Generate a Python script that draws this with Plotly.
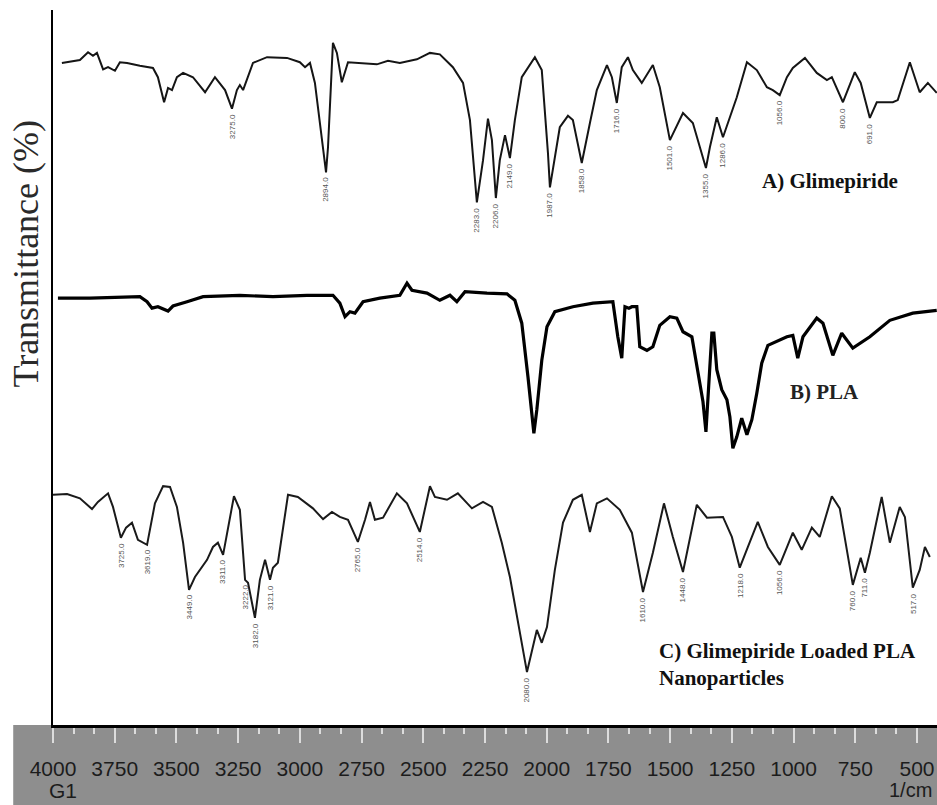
import plotly.graph_objects as go

# FTIR spectra, stacked (transmittance in display units, offset per sample)
glim_wn = [3964, 3891, 3858, 3838, 3822, 3797, 3777, 3749, 3729, 3700, 3648, 3595, 3575, 3550, 3534,
           3518, 3498, 3473, 3433, 3384, 3344, 3303, 3275, 3255, 3243, 3230, 3190, 3133, 3052, 3000,
           2979, 2959, 2939, 2894, 2886, 2866, 2850, 2830, 2805, 2769, 2688, 2643, 2595, 2526, 2473,
           2433, 2380, 2339, 2311, 2283, 2258, 2238, 2222, 2206, 2190, 2169, 2149, 2129, 2101, 2048,
           2020, 1995, 1987, 1947, 1914, 1894, 1858, 1825, 1797, 1756, 1736, 1716, 1696, 1671, 1651,
           1615, 1570, 1542, 1501, 1448, 1408, 1355, 1339, 1311, 1286, 1258, 1230, 1189, 1149, 1108,
           1084, 1056, 1027, 1003, 954, 906, 865, 845, 800, 752, 728, 691, 663, 598, 578,
           529, 489, 456, 420]
glim_t = [92.6, 93.0, 94.1, 93.6, 94.0, 91.7, 92.0, 91.5, 92.7, 92.6, 92.2, 91.9, 90.6, 87.1, 89.1,
          88.8, 90.6, 91.2, 90.6, 88.5, 90.6, 88.8, 86.2, 88.8, 89.5, 88.8, 92.6, 93.4, 93.3, 92.7,
          92.0, 92.6, 89.8, 77.3, 80.8, 95.4, 94.0, 89.9, 92.7, 92.6, 92.4, 92.9, 92.6, 93.1, 94.0,
          93.8, 92.0, 89.8, 84.6, 73.1, 79.0, 84.8, 81.8, 73.7, 79.0, 82.5, 79.3, 84.6, 90.6, 93.4,
          91.6, 80.0, 75.2, 83.6, 85.2, 84.6, 78.6, 84.2, 88.8, 92.3, 90.6, 87.0, 92.0, 93.4, 91.6,
          89.8, 92.3, 89.2, 81.8, 85.6, 84.2, 77.9, 80.8, 85.0, 82.2, 85.0, 87.8, 92.7, 91.6, 89.2,
          88.8, 88.1, 90.6, 91.9, 93.3, 91.2, 90.2, 90.6, 87.1, 91.3, 89.8, 84.9, 87.1, 87.1, 87.4,
          92.7, 88.5, 89.8, 88.4]

pla_wn = [3980, 3850, 3648, 3619, 3599, 3575, 3534, 3514, 3457, 3392, 3243, 3109, 2971, 2866, 2838,
          2817, 2797, 2777, 2744, 2676, 2595, 2566, 2546, 2485, 2433, 2392, 2364, 2331, 2242, 2161,
          2129, 2101, 2076, 2060, 2052, 2040, 2020, 1999, 1967, 1894, 1813, 1732, 1712, 1696, 1683,
          1667, 1655, 1635, 1623, 1594, 1570, 1542, 1501, 1473, 1448, 1412, 1388, 1367, 1355, 1347,
          1331, 1323, 1311, 1291, 1270, 1258, 1246, 1230, 1210, 1189, 1169, 1149, 1129, 1104, 1027,
          1003, 983, 962, 906, 881, 841, 805, 760, 691, 610, 517, 420]
pla_t = [59.7, 59.7, 59.9, 59.2, 58.3, 58.5, 57.9, 58.6, 59.2, 59.9, 60.1, 59.9, 60.1, 60.1, 59.0,
         57.1, 57.8, 57.6, 59.2, 59.7, 60.1, 61.8, 60.8, 60.4, 59.4, 60.1, 59.2, 60.6, 60.4, 60.3,
         59.4, 56.2, 48.7, 43.1, 40.8, 44.1, 51.0, 55.7, 57.8, 58.5, 59.0, 59.2, 54.3, 51.3, 58.5,
         58.3, 58.5, 58.5, 52.9, 52.4, 52.9, 55.9, 57.1, 56.9, 55.0, 54.3, 49.2, 45.2, 41.0, 45.9,
         54.8, 54.8, 49.7, 46.9, 45.5, 43.1, 38.7, 40.3, 42.9, 40.6, 42.7, 46.4, 50.6, 53.1, 54.3,
         54.5, 51.3, 54.3, 56.9, 56.2, 51.7, 54.8, 52.7, 54.3, 56.6, 57.6, 58.0]

nano_wn = [4000, 3943, 3891, 3842, 3818, 3777, 3757, 3725, 3704, 3680, 3656, 3619, 3587, 3554, 3526,
           3498, 3473, 3449, 3425, 3397, 3376, 3352, 3332, 3311, 3291, 3267, 3243, 3222, 3210, 3182,
           3162, 3141, 3121, 3109, 3089, 3048, 3008, 2947, 2906, 2870, 2838, 2805, 2765, 2736, 2716,
           2696, 2663, 2607, 2566, 2514, 2473, 2453, 2404, 2360, 2303, 2258, 2222, 2182, 2149, 2117,
           2080, 2040, 2020, 1999, 1967, 1934, 1894, 1858, 1825, 1797, 1756, 1704, 1655, 1610, 1570,
           1525, 1489, 1448, 1392, 1351, 1286, 1250, 1218, 1185, 1145, 1104, 1056, 1023, 1003, 967,
           926, 894, 845, 813, 784, 760, 728, 711, 691, 643, 610, 570, 549, 517, 489,
           468, 448]
nano_t = [32.2, 32.3, 31.7, 30.2, 31.2, 32.4, 30.5, 26.2, 27.6, 28.3, 25.9, 25.2, 31.0, 33.4, 33.3,
          30.5, 25.5, 18.9, 20.7, 22.1, 23.1, 24.9, 25.5, 23.8, 27.3, 32.0, 30.1, 20.3, 19.9, 15.0,
          20.3, 23.1, 20.3, 22.0, 22.7, 32.2, 31.9, 30.3, 28.8, 29.8, 29.1, 28.7, 25.6, 28.7, 31.2,
          28.7, 29.0, 32.4, 31.0, 27.0, 33.4, 31.9, 31.5, 32.4, 30.3, 31.2, 30.5, 25.5, 20.7, 14.7,
          7.4, 13.3, 11.5, 13.7, 21.7, 28.3, 31.5, 32.2, 27.0, 31.0, 31.7, 30.1, 26.9, 18.6, 24.1,
          31.0, 26.3, 21.4, 30.8, 29.0, 29.1, 26.3, 22.0, 24.9, 28.4, 24.9, 22.4, 25.2, 26.9, 24.5,
          27.6, 26.3, 32.0, 30.3, 24.1, 19.6, 23.4, 21.3, 24.1, 31.9, 25.5, 30.5, 29.1, 19.2, 21.7,
          24.9, 23.5]

# marked peaks (wavenumbers of the labelled minima)
glim_peaks = [3275, 2894, 2283, 2206, 2149, 1987, 1858, 1716, 1501, 1355, 1286, 1056, 800, 691]
nano_peaks = [3725, 3619, 3449, 3311, 3222, 3182, 3121, 2765, 2514, 2080, 1610, 1448, 1218, 1056,
              760, 711, 517]

tick_vals = [4000, 3750, 3500, 3250, 3000, 2750, 2500, 2250, 2000, 1750, 1500, 1250, 1000, 750, 500]

narrow = "Liberation Sans Narrow, Arial Narrow, Liberation Sans"
serif = "Liberation Serif, Times New Roman, serif"

fig = go.Figure()

fig.add_trace(go.Scatter(x=glim_wn, y=glim_t, mode="lines",
                         line=dict(color="#151515", width=2), showlegend=False))
fig.add_trace(go.Scatter(x=pla_wn, y=pla_t, mode="lines",
                         line=dict(color="#000000", width=3.2), showlegend=False))
fig.add_trace(go.Scatter(x=nano_wn, y=nano_t, mode="lines",
                         line=dict(color="#1a1a1a", width=2), showlegend=False))

# small rotated peak labels under the marked minima
for wns, ts, peaks in [(glim_wn, glim_t, glim_peaks), (nano_wn, nano_t, nano_peaks)]:
    lookup = dict(zip(wns, ts))
    for p in peaks:
        fig.add_annotation(x=p, y=lookup[p], text=str(p) + ".0", showarrow=False,
                           textangle=-90, yanchor="top", yshift=-3,
                           font=dict(family=narrow, size=8, color="#555555"))

fig.add_annotation(x=1137, y=76.1, text="<b>A) Glimepiride</b>", showarrow=False,
                   xanchor="left", yanchor="middle", font=dict(family=serif, size=21, color="#111"))
fig.add_annotation(x=1023, y=46.6, text="<b>B) PLA</b>", showarrow=False,
                   xanchor="left", yanchor="middle", font=dict(family=serif, size=21, color="#222"))
fig.add_annotation(x=1554, y=8.4, text="<b>C) Glimepiride Loaded PLA<br>Nanoparticles</b>",
                   showarrow=False, xanchor="left", yanchor="middle", align="left",
                   font=dict(family=serif, size=21, color="#111"))

# axis title and instrument labels
fig.add_annotation(xref="paper", yref="paper", x=-0.03, y=0.66, text="Transmittance (%)",
                   textangle=-90, showarrow=False, xanchor="center", yanchor="middle",
                   font=dict(family=serif, size=36, color="#2a2a2a"))
fig.add_annotation(xref="paper", yref="paper", x=0.0113, y=-0.091, text="G1", showarrow=False,
                   xanchor="center", yanchor="middle",
                   font=dict(family=narrow, size=21, color="#1c1c1c"))
fig.add_annotation(xref="paper", yref="paper", x=0.997, y=-0.091, text="1/cm", showarrow=False,
                   xanchor="right", yanchor="middle",
                   font=dict(family=narrow, size=20, color="#1c1c1c"))

# gray scale strip under the plot
fig.add_shape(type="rect", xref="paper", yref="paper", x0=-0.045, x1=1.01, y0=-0.13, y1=0,
              fillcolor="#8e8e8e", line=dict(width=0), layer="below")

fig.update_xaxes(
    range=[4000, 419],
    tickmode="array", tickvals=tick_vals, ticktext=[str(v) for v in tick_vals],
    ticks="outside", ticklen=15, tickwidth=1.5, tickcolor="#dcdcdc",
    ticklabelstandoff=8,
    tickfont=dict(family=narrow, size=21, color="#1c1c1c"),
    minor=dict(tick0=4000, dtick=250 / 3, ticks="outside", ticklen=6, tickwidth=1.5, tickcolor="#dcdcdc"),
    showline=True, linecolor="#000", linewidth=2.5, showgrid=False, zeroline=False,
)
fig.update_yaxes(
    range=[0, 100], showticklabels=False, ticks="", showgrid=False, zeroline=False,
    showline=True, linecolor="#000", linewidth=2,
)

fig.update_layout(
    width=937, height=805,
    margin=dict(l=53, r=0, t=10, b=80),
    plot_bgcolor="white", paper_bgcolor="white",
)

# drop the default page margin so the figure fills the window exactly
fig.write_html("out.html", config={"displayModeBar": False},
               post_script="document.body.style.margin='0';document.body.style.overflow='hidden';")
